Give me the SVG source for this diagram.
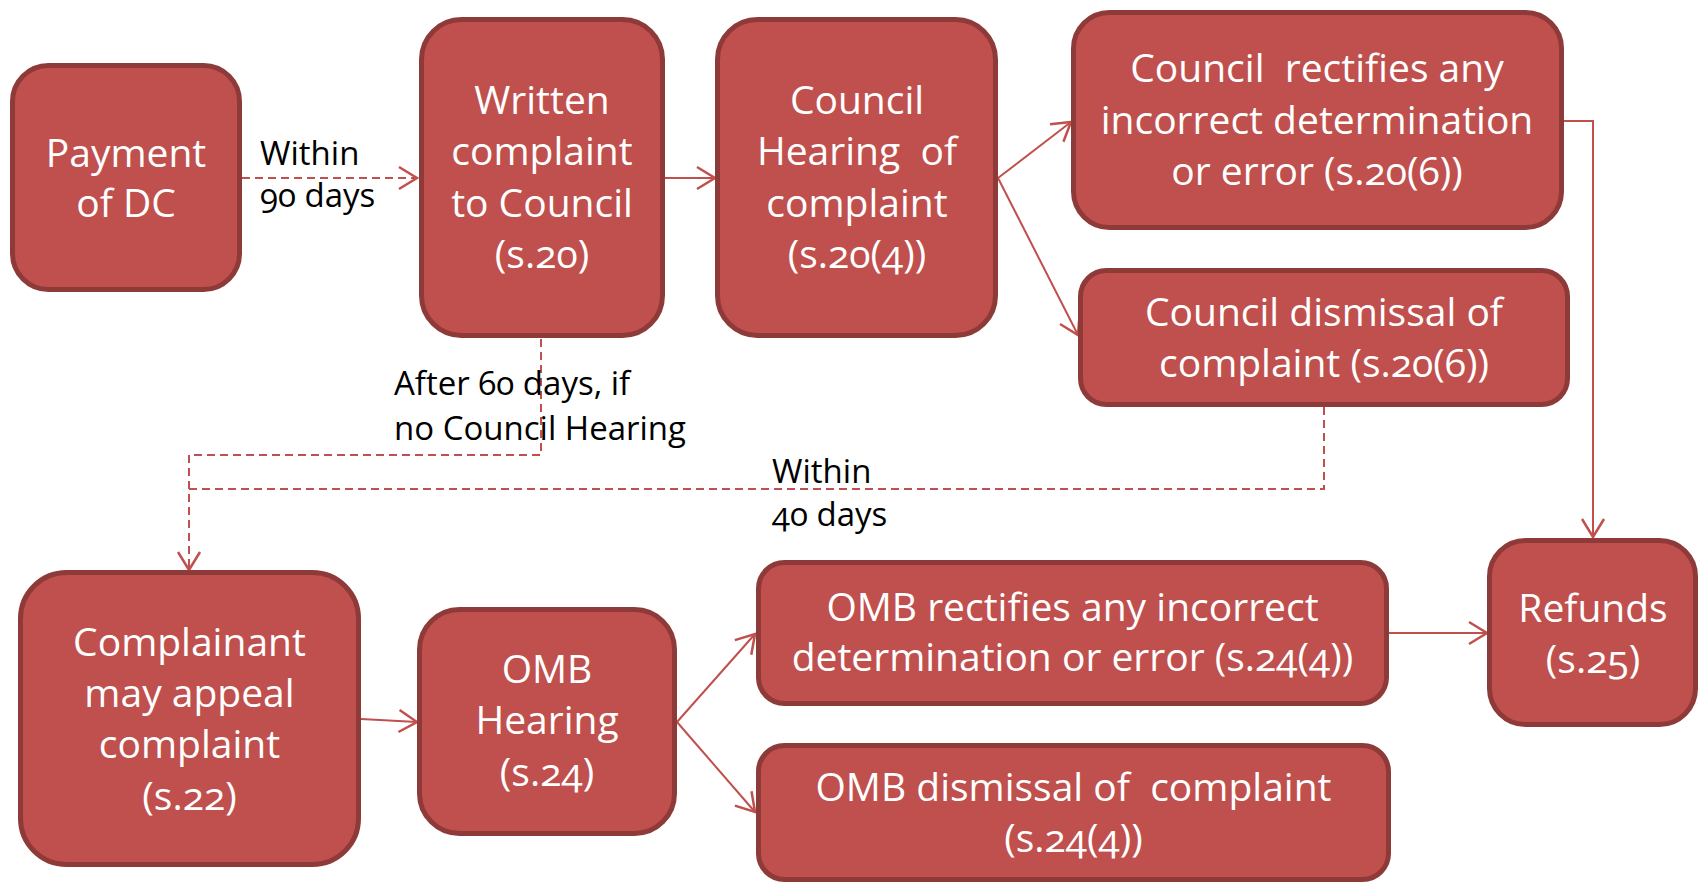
<svg xmlns="http://www.w3.org/2000/svg" width="1698" height="882" viewBox="0 0 1698 882">
<style>
.box{fill:#C0504D;stroke:#8E3A38;stroke-width:5}
.bt{font-family:"Open Sans","DejaVu Sans",sans-serif;font-size:39px;fill:#FFFFFF;text-anchor:middle;font-variant-numeric:oldstyle-nums}
.lb{font-family:"Open Sans","DejaVu Sans",sans-serif;font-size:33px;fill:#000000;font-variant-numeric:oldstyle-nums}
.c{fill:none;stroke:#C0504D;stroke-width:2}
.d{stroke-dasharray:8 5}
</style>
<defs>
<marker id="ah" markerUnits="userSpaceOnUse" markerWidth="22" markerHeight="26" viewBox="0 0 22 26" refX="20" refY="13" orient="auto">
<path d="M2,2 L20,13 L2,24" fill="none" stroke="#C0504D" stroke-width="2.5"/>
</marker>
</defs>
<g id="connectors">
<path class="c d" d="M242,178 L417,178" marker-end="url(#ah)"/>
<path class="c" d="M665,178 L715,178" marker-end="url(#ah)"/>
<path class="c" d="M998,178 L1071,122" marker-end="url(#ah)"/>
<path class="c" d="M998,178 L1078,335" marker-end="url(#ah)"/>
<path class="c" d="M1564,121 L1593,121 L1593,537" marker-end="url(#ah)"/>
<path class="c d" d="M541,339 L541,455 L189,455 L189,570" marker-end="url(#ah)"/>
<path class="c d" d="M1324,407 L1324,489 L189,489"/>
<path class="c" d="M361,719 L417,722" marker-end="url(#ah)"/>
<path class="c" d="M677,722 L755,634" marker-end="url(#ah)"/>
<path class="c" d="M677,722 L755,812" marker-end="url(#ah)"/>
<path class="c" d="M1389,633 L1487,633" marker-end="url(#ah)"/>
</g>
<g id="labels">
<text class="lb" x="260" y="165">Within</text>
<text class="lb" x="260" y="207">90 days</text>
<text class="lb" x="394" y="395">After 60 days, if</text>
<text class="lb" x="394" y="440">no Council Hearing</text>
<text class="lb" x="772" y="483">Within</text>
<text class="lb" x="772" y="526">40 days</text>
</g>
<g id="payment">
<rect class="box" x="12.5" y="65.5" width="227" height="224" rx="36"/>
<text class="bt" x="126" y="167">Payment</text>
<text class="bt" x="126" y="217">of DC</text>
</g>
<g id="written">
<rect class="box" x="421.5" y="19.5" width="241" height="316" rx="40"/>
<text class="bt" x="542" y="114">Written</text>
<text class="bt" x="542" y="165">complaint</text>
<text class="bt" x="542" y="217">to Council</text>
<text class="bt" x="542" y="268">(s.20)</text>
</g>
<g id="council-hearing">
<rect class="box" x="717.5" y="19.5" width="278" height="316" rx="40"/>
<text class="bt" x="857" y="114">Council</text>
<text class="bt" x="857" y="165" xml:space="preserve">Hearing  of</text>
<text class="bt" x="857" y="217">complaint</text>
<text class="bt" x="857" y="268">(s.20(4))</text>
</g>
<g id="council-rectifies">
<rect class="box" x="1073.5" y="12.5" width="488" height="215" rx="36"/>
<text class="bt" x="1317" y="82" xml:space="preserve">Council  rectifies any</text>
<text class="bt" x="1317" y="134">incorrect determination</text>
<text class="bt" x="1317" y="185">or error (s.20(6))</text>
</g>
<g id="council-dismissal">
<rect class="box" x="1080.5" y="270.5" width="487" height="134" rx="26"/>
<text class="bt" x="1324" y="326">Council dismissal of</text>
<text class="bt" x="1324" y="377">complaint (s.20(6))</text>
</g>
<g id="complainant">
<rect class="box" x="20.5" y="572.5" width="338" height="292" rx="46"/>
<text class="bt" x="189.5" y="656">Complainant</text>
<text class="bt" x="189.5" y="707">may appeal</text>
<text class="bt" x="189.5" y="758">complaint</text>
<text class="bt" x="189.5" y="810">(s.22)</text>
</g>
<g id="omb-hearing">
<rect class="box" x="419.5" y="609.5" width="255" height="224" rx="40"/>
<text class="bt" x="547" y="683">OMB</text>
<text class="bt" x="547" y="734">Hearing</text>
<text class="bt" x="547" y="786">(s.24)</text>
</g>
<g id="omb-rectifies">
<rect class="box" x="758.5" y="562.5" width="628" height="141" rx="26"/>
<text class="bt" x="1072.5" y="621">OMB rectifies any incorrect</text>
<text class="bt" x="1072.5" y="671">determination or error (s.24(4))</text>
</g>
<g id="omb-dismissal">
<rect class="box" x="758.5" y="745.5" width="630" height="134" rx="26"/>
<text class="bt" x="1073.5" y="801" xml:space="preserve">OMB dismissal of  complaint</text>
<text class="bt" x="1073.5" y="852">(s.24(4))</text>
</g>
<g id="refunds">
<rect class="box" x="1489.5" y="540.5" width="206" height="184" rx="36"/>
<text class="bt" x="1593" y="622">Refunds</text>
<text class="bt" x="1593" y="673">(s.25)</text>
</g>
</svg>
